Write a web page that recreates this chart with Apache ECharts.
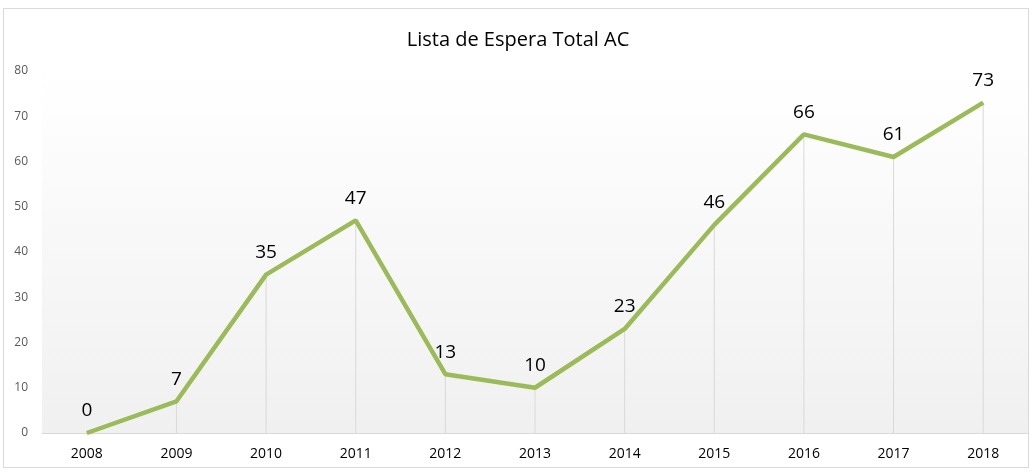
<!DOCTYPE html>
<html>
<head>
<meta charset="utf-8">
<script src="https://cdn.jsdelivr.net/npm/echarts@6/dist/echarts.min.js"></script>
<style>
  html, body { margin: 0; padding: 0; background: #fff; }
  #frame { position: absolute; left: 3px; top: 8px; width: 1026px; height: 460px;
           border: 1px solid #d9d9d9; box-sizing: border-box; }
  #chart { width: 1036px; height: 472px; position: absolute; left: 0; top: 0; }
</style>
</head>
<body>
<div id="frame"></div>
<div id="chart"></div>
<script>
  const years = ['2008', '2009', '2010', '2011', '2012', '2013', '2014', '2015', '2016', '2017', '2018'];
  const espera = [0, 7, 35, 47, 13, 10, 23, 46, 66, 61, 73];
  const titulo = 'Lista de Espera Total AC';

  const chart = echarts.init(document.getElementById('chart'));

  chart.setOption({
    animation: false,
    title: {
      text: titulo,
      left: 'center',
      top: 25,
      textStyle: { fontFamily: 'Open Sans', fontSize: 20, fontWeight: 'normal', color: '#000' }
    },
    grid: {
      left: 42,
      right: 8,
      top: 71,
      bottom: 39,
      show: true,
      borderWidth: 0,
      backgroundColor: new echarts.graphic.LinearGradient(0, 0, 0, 1, [
        { offset: 0, color: '#ffffff' },
        { offset: 1, color: '#f0f0f0' }
      ])
    },
    xAxis: {
      type: 'category',
      data: years,
      boundaryGap: true,
      axisLine: { lineStyle: { color: '#d9d9d9' } },
      axisTick: { show: false },
      axisLabel: { fontFamily: 'Open Sans', fontSize: 14, color: '#000', margin: 14 }
    },
    yAxis: {
      type: 'value',
      min: 0,
      max: 80,
      interval: 10,
      splitLine: { show: false },
      axisLine: { show: false },
      axisTick: { show: false },
      axisLabel: { fontFamily: 'Open Sans', fontSize: 12, color: '#595959', margin: 14, align: 'right' }
    },
    series: [
      {
        // drop lines
        type: 'bar',
        data: espera,
        barWidth: 1,
        itemStyle: { color: '#d9d9d9' },
        silent: true,
        z: 1
      },
      {
        type: 'line',
        data: espera,
        symbol: 'circle',
        symbolSize: 1,
        showSymbol: true,
        itemStyle: { color: '#9bbb59', opacity: 0 },
        lineStyle: { color: '#9bbb59', width: 4.5 },
        label: {
          show: true,
          position: 'top',
          distance: 12,
          fontFamily: 'Open Sans',
          fontSize: 19,
          color: '#000',
          opacity: 1
        },
        z: 3
      }
    ]
  });
</script>
</body>
</html>
